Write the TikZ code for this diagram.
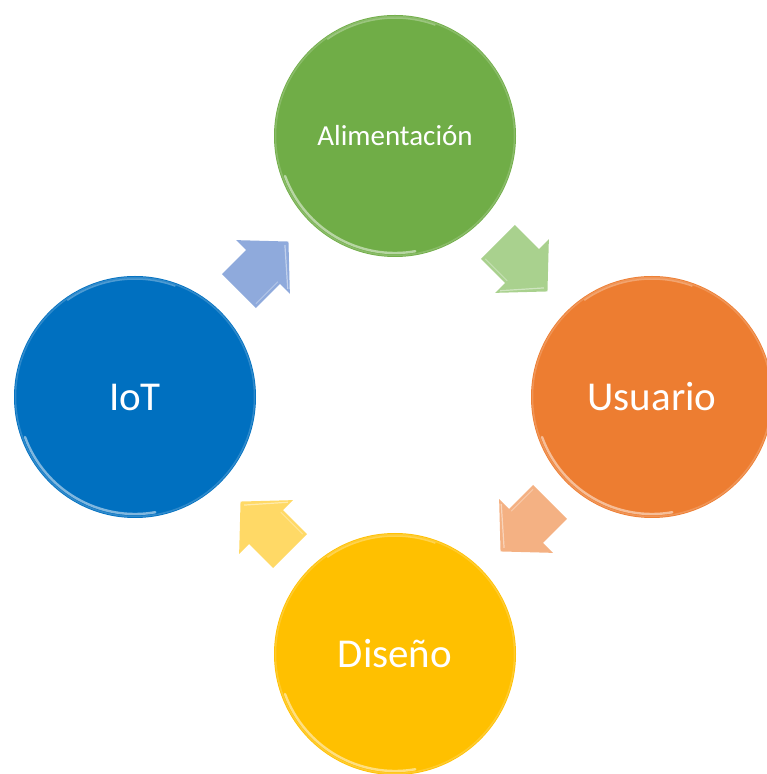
\documentclass[tikz,border=0pt]{standalone}
\usepackage{fontspec}
\setmainfont{Carlito}
\definecolor{cgreen}{HTML}{70AD47}
\definecolor{corange}{HTML}{ED7D31}
\definecolor{cyellow}{HTML}{FFC000}
\definecolor{cblue}{HTML}{0070C0}
\definecolor{agreen}{HTML}{A9D18E}
\definecolor{aorange}{HTML}{F4B183}
\definecolor{ayellow}{HTML}{FFD966}
\definecolor{ablue}{HTML}{8FAADC}
\tikzset{
  bubble/.style={circle, inner sep=0pt, minimum size=242pt, text=white, font=\fontsize{41}{46}\selectfont},
  rimlight/.style={white, line width=2.4pt, opacity=0.5, line cap=round},
  rimsoft/.style={white, line width=1.5pt, opacity=0.18},
  blockarrow/.style={line join=miter},
}
\newcommand{\cyclearrow}[3]{% center, angle, fill
  \begin{scope}[shift={#1}, rotate=#2]
    \fill[#3, blockarrow] (-34,-24) -- (0,-24) -- (0,-38) -- (36,0) -- (0,38) -- (0,24) -- (-34,24) -- cycle;
    \draw[white, opacity=0.45, line width=1.2pt] (2,-33) -- (31,0);
    \draw[white, opacity=0.3, line width=1pt] (-31,-21) -- (0,-21);
  \end{scope}}
\newcommand{\rim}[1]{%
  \draw[rimsoft, shift={(#1.center)}] (0,0) circle[radius=119.5];
  \draw[rimlight, shift={(#1.center)}] (200:117) arc[start angle=200, end angle=280, radius=117];
  \draw[white, line width=1.5pt, opacity=0.3, shift={(#1.center)}] (70:118) arc[start angle=70, end angle=125, radius=118];}
\begin{document}
\begin{tikzpicture}[x=1pt,y=1pt]
  \useasboundingbox (0,0) rectangle (767,774);
  \node[bubble, fill=cgreen, font=\fontsize{29}{34}\selectfont] (alim) at (395,638) {Alimentación};
  \node[bubble, fill=corange] (usu) at (652,377) {Usuario};
  \node[bubble, fill=cyellow] (dis) at (395,120) {Diseño};
  \node[bubble, fill=cblue] (iot) at (135,377) {IoT};
  \rim{alim}
  \rim{usu}
  \rim{dis}
  \rim{iot}
  \cyclearrow{(263,507)}{45}{ablue}
  \cyclearrow{(522,508)}{-45}{agreen}
  \cyclearrow{(526,248)}{-135}{aorange}
  \cyclearrow{(266,247)}{135}{ayellow}
\end{tikzpicture}
\end{document}
